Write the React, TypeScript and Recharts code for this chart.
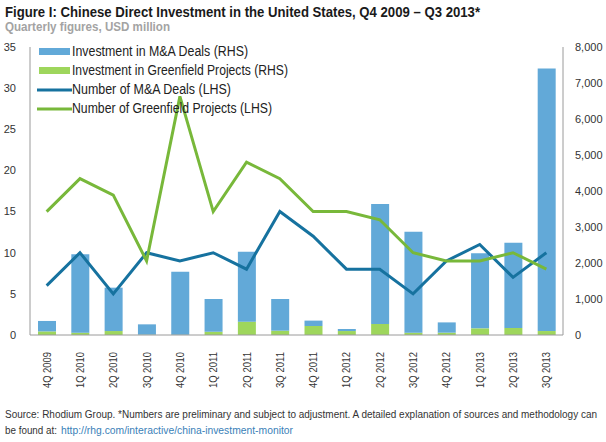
import { ComposedChart, Bar, Line, XAxis, YAxis } from 'recharts'

const quarters = [
  '4Q 2009', '1Q 2010', '2Q 2010', '3Q 2010', '4Q 2010', '1Q 2011', '2Q 2011', '3Q 2011',
  '4Q 2011', '1Q 2012', '2Q 2012', '3Q 2012', '4Q 2012', '1Q 2013', '2Q 2013', '3Q 2013',
]
// USD million (RHS)
const maInvestment = [290, 2175, 1205, 286, 1750, 910, 1945, 880, 150, 57, 3335, 2805, 285, 2085, 2370, 7290]
const greenfieldInvestment = [100, 65, 110, 10, 10, 90, 370, 120, 250, 110, 305, 65, 65, 185, 195, 110]
// counts (LHS)
const maDeals = [6, 10, 5, 10, 9, 10, 8, 15, 12, 8, 8, 5, 9, 11, 7, 10]
const greenfieldProjects = [15, 19, 17, 9, 29, 15, 21, 19, 15, 15, 14, 10, 9, 9, 10, 8]

const leftTicks = [0, 5, 10, 15, 20, 25, 30, 35]
const rightTicks = [0, 1000, 2000, 3000, 4000, 5000, 6000, 7000, 8000]

const BAR_BLUE = '#62a9d8'
const BAR_GREEN = '#9ed65c'
const LINE_BLUE = '#16729f'
const LINE_GREEN = '#78b83a'
const FONT = '"Liberation Sans", Arial, sans-serif'

const data = quarters.map((q, i) => ({
  q,
  ma: maInvestment[i],
  gf: greenfieldInvestment[i],
  maDeals: maDeals[i],
  gfProjects: greenfieldProjects[i],
}))

// legend rows: label, colour, swatch kind, text width in the original
const legendItems = [
  { label: 'Investment in M&A Deals (RHS)', color: BAR_BLUE, kind: 'bar', w: 176 },
  { label: 'Investment in Greenfield Projects (RHS)', color: BAR_GREEN, kind: 'bar', w: 216 },
  { label: 'Number of M&A Deals (LHS)', color: LINE_BLUE, kind: 'line', w: 159 },
  { label: 'Number of Greenfield Projects (LHS)', color: LINE_GREEN, kind: 'line', w: 200 },
]

function QuarterTick(props: any) {
  const { x, y, payload } = props
  return (
    <g transform={`translate(${x},${y})`}>
      <text
        transform="rotate(-90)"
        x={-9}
        y={0}
        dy={4}
        textAnchor="end"
        fontSize={11}
        fill="#333"
        fontFamily={FONT}
        textLength={36}
        lengthAdjust="spacingAndGlyphs"
      >
        {payload.value}
      </text>
    </g>
  )
}

export default function App() {
  return (
    <div style={{ position: 'absolute', left: 0, top: 0, width: 606, height: 442, background: '#fff' }}>
      <div style={{ position: 'absolute', left: 0, top: 0 }}>
        <ComposedChart width={606} height={400} data={data} margin={{ top: 47, right: 0, bottom: 15, left: 0 }}>
          <XAxis
            dataKey="q"
            interval={0}
            height={50}
            tickLine={false}
            axisLine={{ stroke: '#9a9a9a' }}
            tick={<QuarterTick />}
          />
          <YAxis
            yAxisId="left"
            width={30}
            domain={[0, 35]}
            ticks={leftTicks}
            tickLine={false}
            axisLine={{ stroke: '#9a9a9a' }}
            tick={{ fontSize: 11, fill: '#333', fontFamily: FONT }}
            tickMargin={8}
          />
          <YAxis
            yAxisId="right"
            orientation="right"
            width={43}
            domain={[0, 8000]}
            ticks={rightTicks}
            tickLine={false}
            axisLine={{ stroke: '#9a9a9a' }}
            tick={{ fontSize: 11, fill: '#333', fontFamily: FONT }}
            tickFormatter={(v: number) => v.toLocaleString('en-US')}
            tickMargin={6}
          />
          <Bar yAxisId="right" dataKey="gf" stackId="inv" fill={BAR_GREEN} barSize={18} isAnimationActive={false} />
          <Bar yAxisId="right" dataKey="ma" stackId="inv" fill={BAR_BLUE} barSize={18} isAnimationActive={false} />
          <Line yAxisId="left" type="linear" dataKey="maDeals" stroke={LINE_BLUE} strokeWidth={3} dot={false} isAnimationActive={false} />
          <Line yAxisId="left" type="linear" dataKey="gfProjects" stroke={LINE_GREEN} strokeWidth={3} dot={false} isAnimationActive={false} />
        </ComposedChart>
      </div>

      <svg width={606} height={442} style={{ position: 'absolute', left: 0, top: 0, pointerEvents: 'none' }} fontFamily={FONT}>
        <text x={5} y={17} fontSize={15.5} fontWeight="bold" fill="#1a1a1a" textLength={475} lengthAdjust="spacingAndGlyphs">
          Figure I: Chinese Direct Investment in the United States, Q4 2009 – Q3 2013*
        </text>
        <text x={5} y={31} fontSize={13} fontWeight="bold" fill="#a3a3a3" textLength={165} lengthAdjust="spacingAndGlyphs">
          Quarterly figures, USD million
        </text>

        {legendItems.map((it, i) => {
          const base = 56 + i * 19
          return (
            <g key={it.label}>
              {it.kind === 'bar' ? (
                <rect x={39} y={base - 8} width={31} height={7} fill={it.color} />
              ) : (
                <line x1={37} y1={base - 4} x2={72} y2={base - 4} stroke={it.color} strokeWidth={3} />
              )}
              <text x={72} y={base} fontSize={14} fill="#222" textLength={it.w} lengthAdjust="spacingAndGlyphs">
                {it.label}
              </text>
            </g>
          )
        })}

        <text x={5} y={418} fontSize={10} fill="#333" textLength={592} lengthAdjust="spacingAndGlyphs">
          Source: Rhodium Group. *Numbers are preliminary and subject to adjustment. A detailed explanation of sources and methodology can
        </text>
        <text x={5} y={434} fontSize={10} fill="#333" textLength={52} lengthAdjust="spacingAndGlyphs">
          be found at:
        </text>
        <text x={61} y={434} fontSize={10} fill="#3a7fb8" textLength={232} lengthAdjust="spacingAndGlyphs">
          http://rhg.com/interactive/china-investment-monitor
        </text>
      </svg>
    </div>
  )
}
